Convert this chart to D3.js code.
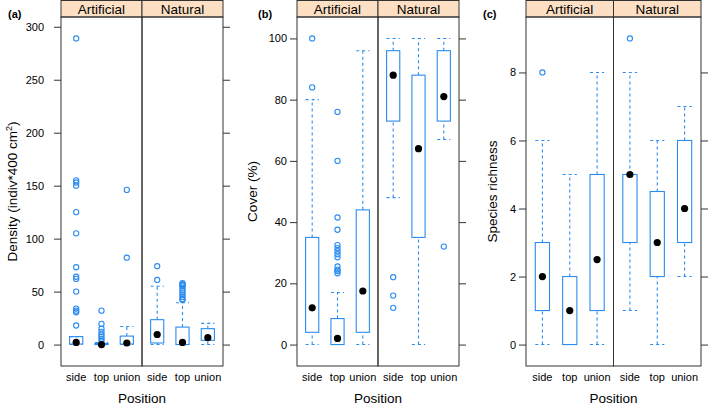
<!DOCTYPE html>
<html><head><meta charset="utf-8">
<script src="https://cdn.jsdelivr.net/npm/d3@7"></script>
<style>body{margin:0;background:#fff}svg{display:block;font-family:"Liberation Sans",Arial,sans-serif}</style>
</head><body><svg id="c" width="709" height="407"></svg>
<script>
// ---- data ----
const positions = ["side", "top", "union"];
const habitats = ["Artificial", "Natural"];
// groups order: Artificial-side, Artificial-top, Artificial-union, Natural-side, Natural-top, Natural-union
const densityLo  = [0, 0, 0, 0, 0, 0];
const densityQ1  = [0.5, 0, 0.5, 1.5, 0, 4];
const densityMed = [2, 0, 1.5, 9.5, 2, 6.5];
const densityQ3  = [7.5, 1, 8, 23.5, 16.5, 15];
const densityHi  = [7.5, 2, 17, 55, 39.5, 20];
const densityOut = [
  [289, 155, 153, 150, 125, 105, 73, 64, 62, 50, 34, 32, 30.5, 18],
  [32, 19.5, 15, 12, 9.5, 7.5, 5.5, 3.5],
  [146, 82],
  [74, 61],
  [58, 57, 56, 55, 53, 51, 49, 47, 45, 43, 42],
  []
];
const densityTicks = [0, 50, 100, 150, 200, 250, 300];

const coverLo  = [0, 0, 0, 48, 0, 67];
const coverQ1  = [4, 0, 4, 73, 35, 73];
const coverMed = [12, 2, 17.5, 88, 64, 81];
const coverQ3  = [35, 8.5, 44, 96, 88, 96];
const coverHi  = [80, 17, 96, 100, 100, 100];
const coverOut = [
  [100, 84],
  [76, 60, 41.5, 37.5, 32.5, 31.5, 30.5, 29.5, 28.5, 25.5, 24.5, 24, 23.3],
  [],
  [22, 16, 12],
  [],
  [32]
];
const coverTicks = [0, 20, 40, 60, 80, 100];

const richLo  = [0, 0, 0, 1, 0, 2];
const richQ1  = [1, 0, 1, 3, 2, 3];
const richMed = [2, 1, 2.5, 5, 3, 4];
const richQ3  = [3, 2, 5, 5, 4.5, 6];
const richHi  = [6, 5, 8, 8, 6, 7];
const richOut = [[8], [], [], [9], [], []];
const richTicks = [0, 2, 4, 6, 8];

// ---- drawing ----
const svg = d3.select("#c");
const BLUE = "#2a8cf0";
const FRAME = "#333";
const STRIP = "#fde0c4";
const TOP = 17, BOTTOM = 366, STRIP_TOP = 0.5;

function panel(cfg) {
  const g = svg.append("g");
  const all = [].concat(cfg.lo, cfg.hi, ...cfg.out);
  const mn = d3.min(all), mx = d3.max(all);
  const ext = 0.07 * (mx - mn);
  const y = d3.scaleLinear().domain([mn - ext, mx + ext]).range([BOTTOM, TOP]);
  const fx = d3.scaleBand().domain(habitats).range([cfg.left, cfg.right]);
  const bw = fx.bandwidth();

  // strips
  habitats.forEach(h => {
    g.append("rect").attr("x", fx(h)).attr("y", STRIP_TOP).attr("width", bw).attr("height", TOP - STRIP_TOP)
      .attr("fill", STRIP).attr("stroke", FRAME).attr("stroke-width", 1);
    g.append("text").attr("x", fx(h) + bw / 2).attr("y", 13.5).attr("text-anchor", "middle")
      .attr("font-size", 13.5).attr("fill", "#000").text(h);
  });

  // frame
  habitats.forEach(h => {
    g.append("rect").attr("x", fx(h)).attr("y", TOP).attr("width", bw).attr("height", BOTTOM - TOP)
      .attr("fill", "none").attr("stroke", FRAME).attr("stroke-width", 1);
  });

  // y axis left
  const ax = d3.axisLeft(y).tickValues(cfg.ticks).tickSize(7).tickPadding(cfg.pad);
  const ag = g.append("g").attr("transform", `translate(${cfg.left},0)`).call(ax);
  ag.select(".domain").remove();
  ag.selectAll("line").attr("stroke", FRAME);
  ag.selectAll("text").attr("font-size", 11).attr("fill", "#000").attr("font-family", "Liberation Sans, Arial, sans-serif");
  const ar = d3.axisRight(y).tickValues(cfg.ticks).tickSize(7).tickFormat("");
  const arg = g.append("g").attr("transform", `translate(${cfg.right},0)`).call(ar);
  arg.select(".domain").remove();
  arg.selectAll("line").attr("stroke", FRAME);

  // boxes
  habitats.forEach((h, hi) => {
    const x = d3.scaleLinear().domain([0.4, 3.6]).range([fx(h), fx(h) + bw]);
    const unit = x(1) - x(0);
    const half = unit * 0.26;
    positions.forEach((p, pi) => {
      const i = hi * 3 + pi;
      const cx = x(pi + 1);
      const dash = "3,3";
      [[cfg.lo[i], cfg.q1[i]], [cfg.q3[i], cfg.hi[i]]].forEach(([a, b]) => {
        if (a !== b) {
          g.append("line").attr("x1", cx).attr("x2", cx).attr("y1", y(a)).attr("y2", y(b))
            .attr("stroke", BLUE).attr("stroke-width", 1.1).attr("stroke-dasharray", dash);
        }
      });
      [cfg.lo[i], cfg.hi[i]].forEach(v => {
        g.append("line").attr("x1", cx - half).attr("x2", cx + half).attr("y1", y(v)).attr("y2", y(v))
          .attr("stroke", BLUE).attr("stroke-width", 1.1).attr("stroke-dasharray", dash);
      });
      g.append("rect").attr("x", cx - half).attr("width", 2 * half)
        .attr("y", y(cfg.q3[i])).attr("height", Math.max(0.5, y(cfg.q1[i]) - y(cfg.q3[i])))
        .attr("fill", "none").attr("stroke", BLUE).attr("stroke-width", 1.1);
      cfg.out[i].forEach(v => {
        g.append("circle").attr("cx", cx).attr("cy", y(v)).attr("r", 2.6)
          .attr("fill", "none").attr("stroke", BLUE).attr("stroke-width", 1.1);
      });
      g.append("circle").attr("cx", cx).attr("cy", y(cfg.med[i])).attr("r", 3.6).attr("fill", "#000");
      g.append("text").attr("x", cx).attr("y", 381).attr("text-anchor", "middle")
        .attr("font-size", 11).attr("fill", "#000").text(p);
    });
  });

  g.append("text").attr("x", (cfg.left + cfg.right) / 2).attr("y", 403).attr("text-anchor", "middle")
    .attr("font-size", 13.5).attr("fill", "#000").text("Position");
  const yt = g.append("text").attr("transform", `translate(${cfg.titleX},${(TOP + BOTTOM) / 2}) rotate(-90)`)
    .attr("text-anchor", "middle").attr("font-size", 13.5).attr("fill", "#000");
  cfg.title(yt);
  g.append("text").attr("x", cfg.labelX).attr("y", 18).attr("font-size", 11).attr("font-weight", "bold")
    .attr("fill", "#000").text(cfg.label);
}

panel({left: 61, right: 223, pad: 10, lo: densityLo, q1: densityQ1, med: densityMed, q3: densityQ3, hi: densityHi,
  out: densityOut, ticks: densityTicks, titleX: 17, labelX: 8, label: "(a)",
  title: t => { t.append("tspan").text("Density (indiv*400 cm"); t.append("tspan").attr("font-size", 9).attr("dy", -5).text("2"); t.append("tspan").attr("dy", 5).text(")"); }});
panel({left: 297, right: 459, pad: 3, lo: coverLo, q1: coverQ1, med: coverMed, q3: coverQ3, hi: coverHi,
  out: coverOut, ticks: coverTicks, titleX: 257, labelX: 258, label: "(b)",
  title: t => t.text("Cover (%)")});
panel({left: 526, right: 701, pad: 3, lo: richLo, q1: richQ1, med: richMed, q3: richQ3, hi: richHi,
  out: richOut, ticks: richTicks, titleX: 497, labelX: 483, label: "(c)",
  title: t => t.text("Species richness")});
</script></body></html>
